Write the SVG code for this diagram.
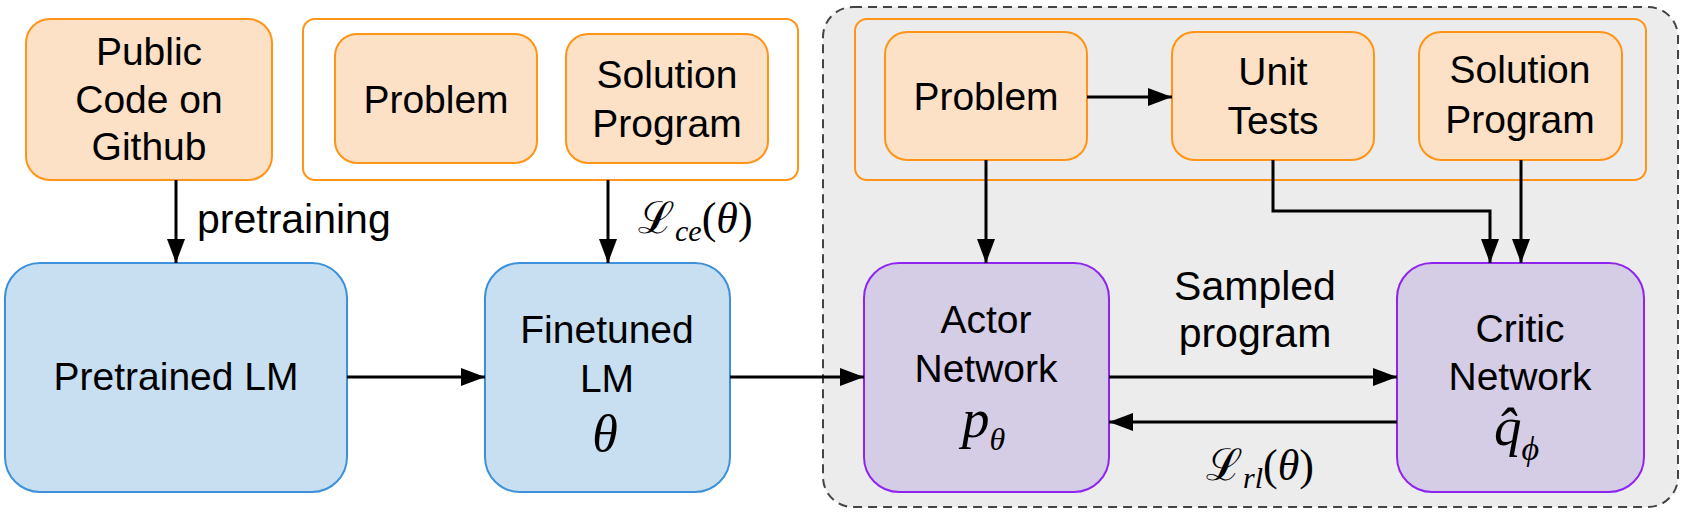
<svg xmlns="http://www.w3.org/2000/svg" width="1684" height="513" viewBox="0 0 1684 513">
<style>
  .lbl { font-family: "Liberation Sans", Arial, sans-serif; font-size: 39px; fill: #000; text-anchor: middle; }
  .edge { font-family: "Liberation Sans", Arial, sans-serif; font-size: 41px; fill: #000; }
  .math { font-family: "Liberation Serif", "DejaVu Serif", serif; font-style: italic; fill: #000; }
  .mathup { font-family: "Liberation Serif", "DejaVu Serif", serif; font-style: normal; fill: #000; }
  .org { fill: #fce1c7; stroke: #ff9416; stroke-width: 2; }
  .grp { fill: none; stroke: #ff9416; stroke-width: 2; }
  .blue { fill: #c8def1; stroke: #3c91da; stroke-width: 2; }
  .purp { fill: #d5cce6; stroke: #8f24f0; stroke-width: 2; }
  .conn { fill: none; stroke: #000; stroke-width: 3; }
</style>
<defs>
  <marker id="ah" markerUnits="userSpaceOnUse" markerWidth="24" markerHeight="18" refX="24" refY="9" orient="auto">
    <path d="M0,0 L24,9 L0,18 z" fill="#000"/>
  </marker>
</defs>

<g id="rl-area">
  <rect x="823" y="7" width="855" height="500" rx="30" fill="#ececec" stroke="#444" stroke-width="2" stroke-dasharray="9 6"/>
</g>
<g id="sft-data">
  <rect class="grp" x="303" y="19" width="495" height="161" rx="12" fill="#fff"/>
</g>
<g id="rl-data">
  <rect class="grp" x="855" y="19" width="791" height="161" rx="12"/>
</g>

<g id="public-code">
  <rect class="org" x="26" y="19" width="246" height="161" rx="24"/>
  <text class="lbl" x="149" y="65">Public</text>
  <text class="lbl" x="149" y="113">Code on</text>
  <text class="lbl" x="149" y="160">Github</text>
</g>
<g id="problem-1">
  <rect class="org" x="335" y="34" width="202" height="129" rx="22"/>
  <text class="lbl" x="436" y="113">Problem</text>
</g>
<g id="solution-1">
  <rect class="org" x="566" y="34" width="202" height="129" rx="22"/>
  <text class="lbl" x="667" y="88">Solution</text>
  <text class="lbl" x="667" y="137">Program</text>
</g>
<g id="problem-2">
  <rect class="org" x="885" y="32" width="202" height="128" rx="22"/>
  <text class="lbl" x="986" y="110">Problem</text>
</g>
<g id="unit-tests">
  <rect class="org" x="1172" y="32" width="202" height="128" rx="22"/>
  <text class="lbl" x="1273" y="85">Unit</text>
  <text class="lbl" x="1273" y="134">Tests</text>
</g>
<g id="solution-2">
  <rect class="org" x="1419" y="32" width="203" height="128" rx="22"/>
  <text class="lbl" x="1520" y="83">Solution</text>
  <text class="lbl" x="1520" y="133">Program</text>
</g>

<g id="pretrained-lm">
  <rect class="blue" x="5" y="263" width="342" height="229" rx="35"/>
  <text class="lbl" x="176" y="390">Pretrained LM</text>
</g>
<g id="finetuned-lm">
  <rect class="blue" x="485" y="263" width="245" height="229" rx="35"/>
  <text class="lbl" x="607" y="343">Finetuned</text>
  <text class="lbl" x="607" y="392">LM</text>
  <text class="math" x="605" y="451" font-size="52" text-anchor="middle">θ</text>
</g>
<g id="actor">
  <rect class="purp" x="864" y="263" width="245" height="229" rx="35"/>
  <text class="lbl" x="986" y="333">Actor</text>
  <text class="lbl" x="986" y="382">Network</text>
  <text class="math" x="962" y="437" font-size="55">p<tspan font-size="32" dy="13">θ</tspan></text>
</g>
<g id="critic">
  <rect class="purp" x="1397" y="263" width="247" height="229" rx="35"/>
  <text class="lbl" x="1520" y="342">Critic</text>
  <text class="lbl" x="1520" y="390">Network</text>
  <text class="math" x="1494" y="445" font-size="55">q̂<tspan font-size="34" dy="15">ϕ</tspan></text>
</g>

<g id="connectors">
  <line class="conn" x1="176" y1="180" x2="176" y2="263" marker-end="url(#ah)"/>
  <line class="conn" x1="608" y1="180" x2="608" y2="263" marker-end="url(#ah)"/>
  <line class="conn" x1="347" y1="377" x2="485" y2="377" marker-end="url(#ah)"/>
  <line class="conn" x1="730" y1="377" x2="864" y2="377" marker-end="url(#ah)"/>
  <line class="conn" x1="1087" y1="97" x2="1172" y2="97" marker-end="url(#ah)"/>
  <line class="conn" x1="986" y1="160" x2="986" y2="263" marker-end="url(#ah)"/>
  <polyline class="conn" points="1273,160 1273,211 1490,211 1490,263" marker-end="url(#ah)"/>
  <line class="conn" x1="1521" y1="160" x2="1521" y2="263" marker-end="url(#ah)"/>
  <line class="conn" x1="1109" y1="377" x2="1397" y2="377" marker-end="url(#ah)"/>
  <line class="conn" x1="1397" y1="422" x2="1109" y2="422" marker-end="url(#ah)"/>
</g>

<g id="edge-labels">
  <text class="edge" x="197" y="233">pretraining</text>
  <text class="mathup" x="638" y="233" font-size="44">ℒ<tspan class="math" font-size="30" dy="8">ce</tspan><tspan class="mathup" font-size="44" dy="-8">(</tspan><tspan class="math">θ</tspan><tspan class="mathup">)</tspan></text>
  <text class="edge" x="1255" y="300" text-anchor="middle">Sampled</text>
  <text class="edge" x="1255" y="347" text-anchor="middle">program</text>
  <text class="mathup" x="1206" y="480" font-size="44">ℒ<tspan class="math" font-size="30" dy="8">rl</tspan><tspan class="mathup" font-size="44" dy="-8">(</tspan><tspan class="math">θ</tspan><tspan class="mathup">)</tspan></text>
</g>
</svg>
